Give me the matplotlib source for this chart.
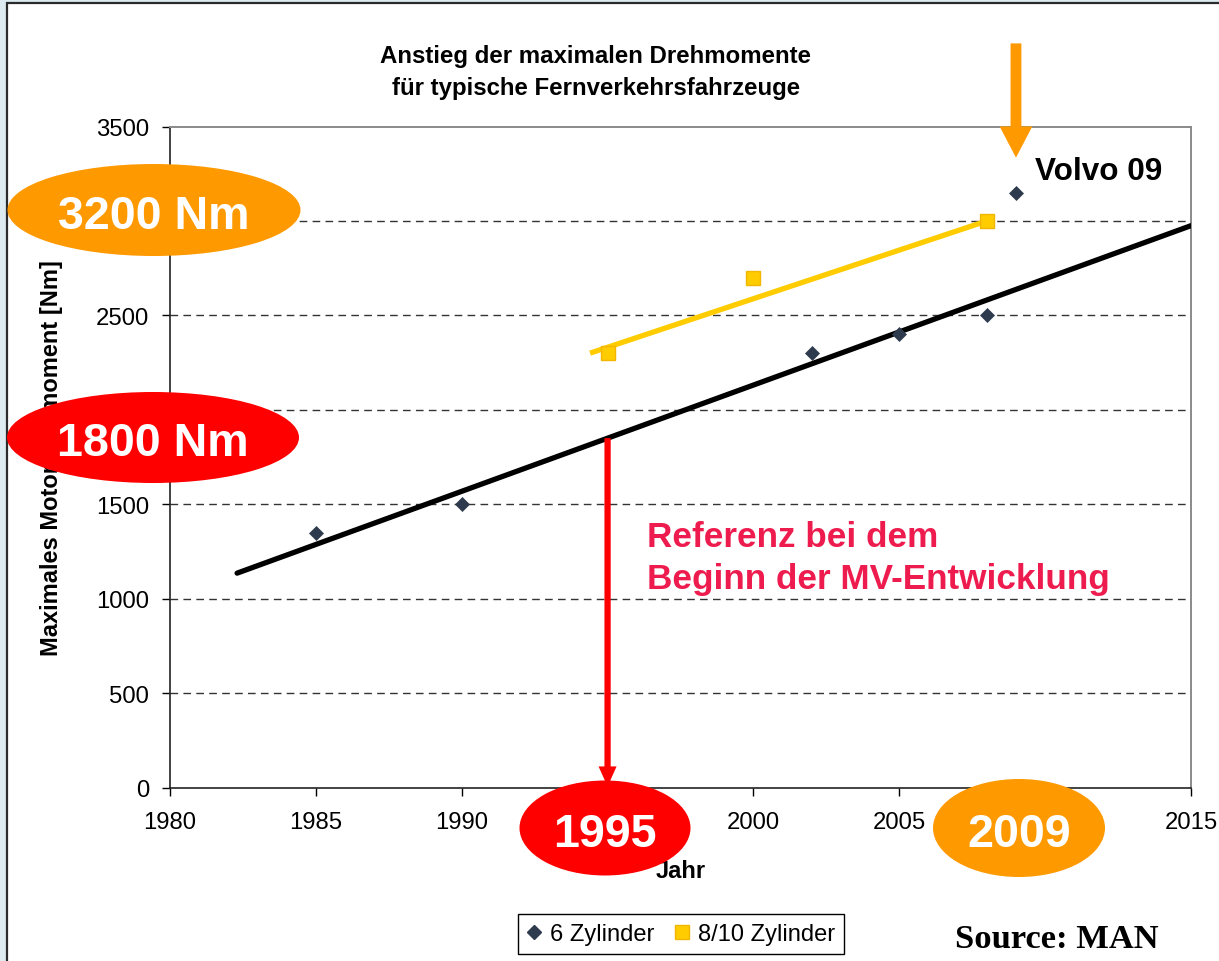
import numpy as np
import matplotlib
matplotlib.use("Agg")
import matplotlib.pyplot as plt
from matplotlib.patches import Ellipse, Rectangle
from matplotlib.lines import Line2D

plt.rcParams['font.family'] = ['Liberation Sans', 'DejaVu Sans']

# ---------------- data ----------------
years_6cyl = [1985, 1990, 2002, 2005, 2008, 2009]
torque_6cyl = [1350, 1500, 2300, 2400, 2500, 3150]
years_8cyl = [1995, 2000, 2008]
torque_8cyl = [2300, 2700, 3000]

trend6_years = [1982.3, 2015.0]
trend6_values = [1135, 2975]
trend8_years = [1994.4, 2008.1]
trend8_values = [2300, 3005]

x_ticks = [1980, 1985, 1990, 1995, 2000, 2005, 2010, 2015]
# 1995 and 2010 labels are hidden under the badges in the reference
x_ticklabels = ["1980", "1985", "1990", "", "2000", "2005", "", "2015"]
y_ticks = [0, 500, 1000, 1500, 2000, 2500, 3000, 3500]

ref_year = 1995
volvo_year = 2009

title_lines = ["Anstieg der maximalen Drehmomente", "für typische Fernverkehrsfahrzeuge"]
legend_labels = ["6 Zylinder", "8/10 Zylinder"]

# ---------------- figure ----------------
W, H = 1219, 962
fig = plt.figure(figsize=(W / 100, H / 100), dpi=100)
fig.patch.set_facecolor('#DDEAEF')

# background panel (pixel coords)
bg = fig.add_axes([0, 0, 1, 1], zorder=-1)
bg.set_xlim(0, W); bg.set_ylim(H, 0); bg.axis('off')
bg.add_patch(Rectangle((7, 4), W + 20, H + 20, facecolor='white',
                       edgecolor='#2a2a2a', lw=1.6))

# main axes
ax = fig.add_axes([170 / W, (H - 788.5) / H, 1021 / W, 661 / H], zorder=1)
ax.set_facecolor('none')
ax.set_xlim(1980, 2015)
ax.set_ylim(0, 3500)
ax.set_xticks(x_ticks)
ax.set_xticklabels(x_ticklabels)
ax.set_yticks(y_ticks)
ax.tick_params(direction='out', length=6, width=1, labelsize=17.2, pad=9, colors='black')
ax.tick_params(axis='x', pad=11)
for s in ['top', 'right']:
    ax.spines[s].set_color('#8a8a8a')
    ax.spines[s].set_linewidth(1.4)
for s in ['left', 'bottom']:
    ax.spines[s].set_color('#222222')
    ax.spines[s].set_linewidth(1.2)

for yv in y_ticks[1:-1]:
    ax.axhline(yv, color='#333333', lw=1.0, dashes=(5.5, 3.8), zorder=1)

ax.set_ylabel("Maximales Motordrehmoment [Nm]", fontsize=17.0, fontweight='bold')
ax.yaxis.set_label_coords(-0.105, 0.5)
ax.set_xlabel("Jahr", fontsize=17.0, fontweight='bold')
ax.xaxis.set_label_coords(0.5, -0.108)

# trend lines
ax.plot(trend6_years, trend6_values, color='black', lw=3.8, solid_capstyle='round', zorder=3)
ax.plot(trend8_years, trend8_values, color='#FFCC00', lw=3.8, solid_capstyle='butt', zorder=3)

# points
ax.plot(years_6cyl, torque_6cyl, linestyle='none', marker='D', ms=7.6, mfc='#2E3B4E',
        mec='#2E3B4E', mew=0.5, zorder=4)
ax.plot(years_8cyl, torque_8cyl, linestyle='none', marker='s', ms=9.6, mfc='#FFCC00',
        mec='#F2B600', mew=1, zorder=4)

# red reference arrow at 1995 from trend line down to 0
trend_at_ref = float(np.interp(ref_year, trend6_years, trend6_values))
ax.annotate('', xy=(ref_year, 5), xytext=(ref_year, trend_at_ref),
            arrowprops=dict(arrowstyle='simple,head_length=1.45,head_width=1.3,tail_width=0.45',
                            color='#FF0000', lw=0, shrinkA=0, shrinkB=0, mutation_scale=10),
            annotation_clip=False, zorder=5)

# orange arrow above Volvo point
ax.annotate('', xy=(volvo_year, 3335), xytext=(volvo_year, 3940),
            arrowprops=dict(arrowstyle='simple,head_length=2.25,head_width=2.35,tail_width=0.78',
                            color='#FF9900', lw=0, shrinkA=0, shrinkB=0, mutation_scale=10),
            annotation_clip=False, zorder=5)

# legend
handles = [Line2D([], [], linestyle='none', marker='D', ms=7, mfc='#2E3B4E', mec='#2E3B4E'),
           Line2D([], [], linestyle='none', marker='s', ms=9.6, mfc='#FFCC00', mec='#F2B600')]
fig.legend(handles, legend_labels, loc='center', bbox_to_anchor=(681 / W, 1 - 935 / H),
           ncol=2, fontsize=17.0, frameon=True, fancybox=False, edgecolor='black',
           framealpha=1, borderpad=0.4, handlelength=0.6, handletextpad=0.35,
           columnspacing=0.9, borderaxespad=0)
fig.legends[0].get_frame().set_linewidth(1.0)

# overlay (pixel coordinates)
ov = fig.add_axes([0, 0, 1, 1], zorder=5)
ov.set_xlim(0, W); ov.set_ylim(H, 0); ov.axis('off')
ov.patch.set_alpha(0)

ov.text(596, 56, title_lines[0], ha='center', va='center', fontsize=17.3, fontweight='bold')
ov.text(596, 88, title_lines[1], ha='center', va='center', fontsize=17.3, fontweight='bold')

def badge(cx, cy, w, h, color, label, baseline):
    ov.add_patch(Ellipse((cx, cy), w, h, facecolor=color, edgecolor='none'))
    ov.text(cx, baseline, label, ha='center', va='baseline', color='white',
            fontsize=33.6, fontweight='bold')

badge(154, 211, 293, 92, '#FF9900', "3200 Nm", 229)
badge(153, 438.5, 292, 91, '#FF0000', "1800 Nm", 456)
badge(605, 829, 171, 95, '#FF0000', "1995", 847)
badge(1019, 829, 172, 98, '#FF9900', "2009", 847)

ov.text(1035, 180, "Volvo 09", ha='left', va='baseline', fontsize=22.7, fontweight='bold')
ov.text(647, 547, "Referenz bei dem", ha='left', va='baseline', fontsize=25.3,
        fontweight='bold', color='#EE1C4E')
ov.text(647, 589, "Beginn der MV-Entwicklung", ha='left', va='baseline', fontsize=25.3,
        fontweight='bold', color='#EE1C4E')
ov.text(955, 948, "Source: MAN", ha='left', va='baseline', fontsize=24.8,
        fontweight='bold', family=['Liberation Serif', 'DejaVu Serif'])

fig.savefig('out.png', dpi=100, facecolor=fig.get_facecolor())
